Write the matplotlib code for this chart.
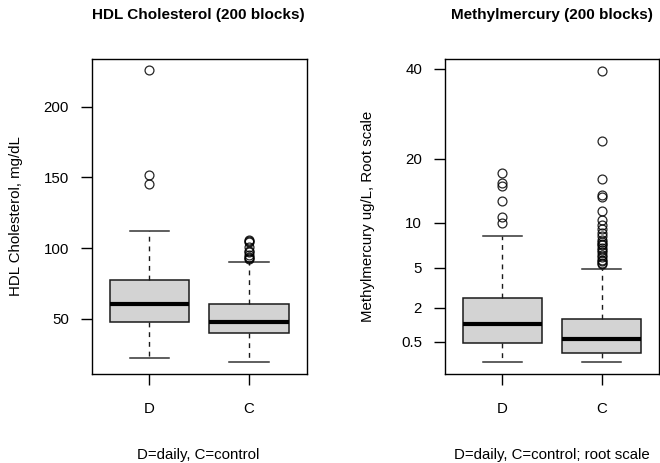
import numpy as np
import matplotlib
matplotlib.use("Agg")
import matplotlib.pyplot as plt

plt.rcParams['font.family'] = ['Liberation Sans', 'DejaVu Sans']

groups = ["D", "C"]

# HDL cholesterol box stats (mg/dL)
hdl_whislo = [22.2, 19.2]
hdl_q1 = [47.9, 40.1]
hdl_med = [60.2, 47.9]
hdl_q3 = [77.2, 60.4]
hdl_whishi = [111.8, 90.1]
hdl_fliers_D = [225.7, 152.0, 145.0]
hdl_fliers_C = [106.0, 105.0, 104.0, 101.0, 98.0, 97.0, 95.0, 94.0, 93.0, 92.0]

# Methylmercury box stats (ug/L)
mm_whislo = [0.0875, 0.0875]
mm_q1 = [0.46, 0.223]
mm_med = [1.16, 0.577]
mm_q3 = [2.61, 1.40]
mm_whishi = [8.35, 4.89]
mm_fliers_D = [17.5, 15.8, 15.3, 13.0, 10.8, 9.92]
mm_fliers_C = [39.5, 23.4, 16.4, 13.9, 13.6, 11.6, 10.4, 9.7, 9.2, 8.67, 8.3,
               7.9, 7.68, 7.4, 7.31, 7.0, 6.77, 6.5, 6.24, 6.0, 5.74, 5.6,
               5.42, 5.3]

hdl_ticks = [50, 100, 150, 200]
mm_ticks = [0.5, 2, 5, 10, 20, 40]
mm_tick_labels = ["0.5", "2", "5", "10", "20", "40"]

W, H = 660, 463
fig = plt.figure(figsize=(W / 100, H / 100), dpi=100)

FS = 10.8
TFS = 11.0


def make_stats(lo, q1, med, q3, hi, fliers_list):
    out = []
    for i in range(len(groups)):
        out.append(dict(whislo=lo[i], q1=q1[i], med=med[i], q3=q3[i],
                        whishi=hi[i], fliers=fliers_list[i], label=groups[i]))
    return out


def draw(ax, stats):
    ax.bxp(stats, positions=[1, 2], widths=0.8, patch_artist=True,
           showfliers=True,
           boxprops=dict(facecolor="#d3d3d3", edgecolor="#1a1a1a", linewidth=1.1),
           medianprops=dict(color="black", linewidth=3.0, solid_capstyle="butt"),
           whiskerprops=dict(color="#1a1a1a", linewidth=1.0, linestyle=(0, (3.5, 3.5))),
           capprops=dict(color="#333333", linewidth=1.1),
           capwidths=0.4,
           flierprops=dict(marker="o", markersize=6.4, markerfacecolor="none",
                           markeredgecolor="black", markeredgewidth=0.9,
                           alpha=0.85))
    ax.set_xlim(0.42, 2.58)
    ax.set_xticks([1, 2])
    ax.set_xticklabels(groups)
    for s in ax.spines.values():
        s.set_linewidth(1.0)
        s.set_color("black")
    ax.tick_params(axis="both", direction="out", length=8, width=1.0,
                   labelsize=FS, colors="black")
    ax.tick_params(axis="y", pad=8.5)
    ax.tick_params(axis="x", pad=12.5)


def px_axes(l, t, r, b):
    return fig.add_axes([l / W, (H - b) / H, (r - l) / W, (b - t) / H])


def ftext(x, y, s, **kw):
    fig.text(x / W, 1 - y / H, s, ha="center", va="center", **kw)


ax1 = px_axes(91.7, 59, 306.7, 374)
draw(ax1, make_stats(hdl_whislo, hdl_q1, hdl_med, hdl_q3, hdl_whishi,
                     [hdl_fliers_D, hdl_fliers_C]))
ax1.set_ylim(10.9, 233.7)
ax1.set_yticks(hdl_ticks)

ax2 = px_axes(445, 59, 659, 374)
ax2.set_yscale("function", functions=(lambda v: np.sqrt(np.clip(v, 0, None)),
                                      lambda s: np.square(s)))
draw(ax2, make_stats(mm_whislo, mm_q1, mm_med, mm_q3, mm_whishi,
                     [mm_fliers_D, mm_fliers_C]))
ax2.set_ylim(0.0024, 42.6)
ax2.set_yticks(mm_ticks)
ax2.set_yticklabels(mm_tick_labels)
ax2.yaxis.set_minor_locator(matplotlib.ticker.NullLocator())

ftext(198.5, 15, "HDL Cholesterol (200 blocks)", fontsize=TFS, fontweight="bold")
ftext(552, 15, "Methylmercury (200 blocks)", fontsize=TFS, fontweight="bold")
ftext(198.5, 455, "D=daily, C=control", fontsize=FS)
ftext(552, 455, "D=daily, C=control; root scale", fontsize=FS)
ftext(16, 216, "HDL Cholesterol, mg/dL", fontsize=FS, rotation=90)
ftext(368, 216, "Methylmercury ug/L, Root scale", fontsize=FS, rotation=90)

fig.savefig("out.png", dpi=100)
